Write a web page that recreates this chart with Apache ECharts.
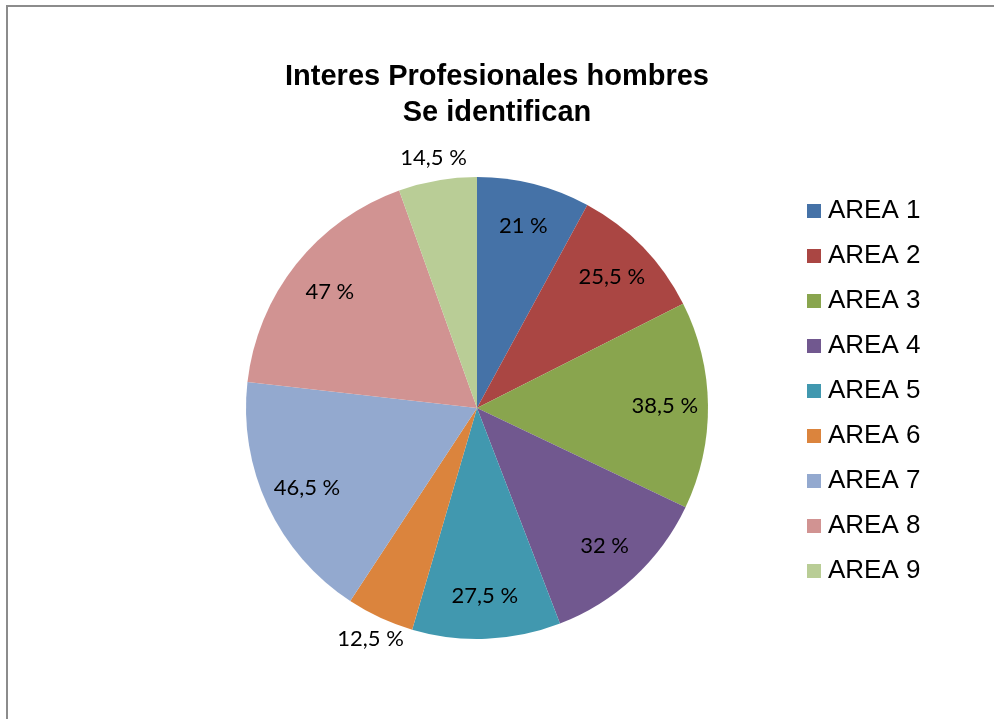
<!DOCTYPE html>
<html>
<head>
<meta charset="utf-8">
<script src="https://cdn.jsdelivr.net/npm/echarts@6/dist/echarts.min.js"></script>
<style>
html,body{margin:0;padding:0;background:#fff;}
#main{width:994px;height:719px;}
</style>
</head>
<body>
<div id="main"></div>
<script>
const titleLines = ['Interes Profesionales hombres', 'Se identifican'];
const categories = ['AREA 1','AREA 2','AREA 3','AREA 4','AREA 5','AREA 6','AREA 7','AREA 8','AREA 9'];
const values = [21, 25.5, 38.5, 32, 27.5, 12.5, 46.5, 47, 14.5];
const colors = ['#4572A7','#AA4643','#89A54E','#71588F','#4198AF','#DB843D','#93A9CF','#D19392','#B9CD96'];

const total = values.reduce((a, b) => a + b, 0);
const isSmall = v => v / total < 0.06;
const fmt = v => String(v).replace('.', ',') + ' %';

const CX = 477, CY = 408, R = 231;
const labelFont = { fontFamily: 'Lato', fontSize: 22, color: '#000' };

const chart = echarts.init(document.getElementById('main'));
chart.setOption({
  backgroundColor: '#fff',
  animation: false,
  color: colors,
  graphic: [{
    type: 'rect', silent: true,
    shape: { x: 7, y: 6, width: 1000, height: 730 },
    style: { fill: 'none', stroke: '#8c8c8c', lineWidth: 2 }
  }],
  title: {
    text: titleLines.join('\n'),
    left: 492, top: 54, textAlign: 'center',
    textStyle: { fontFamily: 'Liberation Sans', fontWeight: 'bold', fontSize: 29, lineHeight: 36, color: '#000' }
  },
  legend: {
    orient: 'vertical',
    left: 807, top: 198, padding: 0,
    icon: 'rect', itemWidth: 14, itemHeight: 14,
    itemGap: 19,
    data: categories,
    textStyle: { fontFamily: 'Liberation Sans', fontSize: 26, lineHeight: 26, color: '#000', padding: [0,0,0,2] }
  },
  series: [
    {
      type: 'pie', name: 'main',
      center: [CX, CY], radius: [0, R],
      startAngle: 90, clockwise: true,
      label: { show: false }, labelLine: { show: false },
      itemStyle: { borderWidth: 0 },
      emphasis: { disabled: true },
      data: categories.map((c, i) => ({ name: c, value: values[i] }))
    },
    {
      type: 'pie', name: 'inLabels', silent: true,
      center: [CX, CY], radius: [R * 0.6, R],
      startAngle: 90, clockwise: true,
      itemStyle: { color: 'rgba(0,0,0,0)' },
      labelLine: { show: false },
      emphasis: { disabled: true },
      data: values.map(v => ({
        value: v,
        label: Object.assign({ show: !isSmall(v), position: 'inside', formatter: fmt(v) }, labelFont)
      }))
    },
    {
      type: 'pie', name: 'outLabels', silent: true,
      center: [CX, CY], radius: [R + 2, R + 38],
      startAngle: 90, clockwise: true,
      itemStyle: { color: 'rgba(0,0,0,0)' },
      labelLine: { show: false },
      emphasis: { disabled: true },
      data: values.map(v => ({
        value: v,
        label: Object.assign({ show: isSmall(v), position: 'inside', formatter: fmt(v) }, labelFont)
      }))
    }
  ]
});
</script>
</body>
</html>
